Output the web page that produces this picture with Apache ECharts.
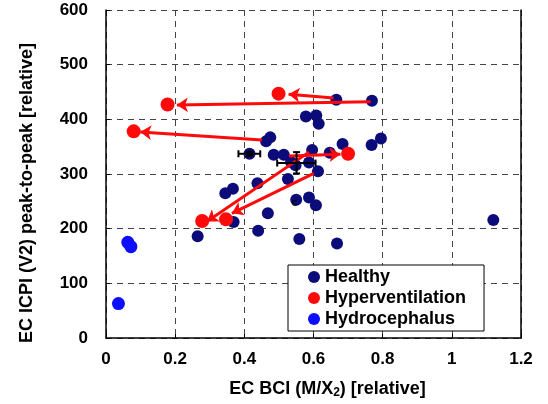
<!DOCTYPE html>
<html>
<head>
<meta charset="utf-8">
<script src="https://cdn.jsdelivr.net/npm/echarts@6/dist/echarts.min.js"></script>
<style>
    html, body { margin: 0; padding: 0; background: #fff; }
    #chart { width: 548px; height: 404px; }
</style>
</head>
<body>
<div id="chart"></div>
<script>
// values
const healthy = [
    [0.666, 436], [0.769, 434], [0.578, 405], [0.608, 407], [0.615, 392],
    [0.463, 360], [0.475, 367], [0.684, 355], [0.768, 353], [0.795, 365],
    [0.415, 337], [0.485, 335], [0.514, 335], [0.548, 316], [0.535, 322],
    [0.587, 321], [0.596, 344], [0.647, 339], [0.613, 305], [0.526, 291],
    [0.438, 283], [0.367, 273], [0.345, 265], [0.550, 253], [0.587, 257],
    [0.607, 243], [0.468, 228], [0.369, 212], [0.440, 196], [0.265, 186],
    [0.559, 181], [0.668, 173], [1.120, 216]
];
const hyperventilation = [
    [0.499, 447], [0.178, 427], [0.080, 378], [0.700, 337], [0.278, 214], [0.347, 217]
];
const hydrocephalus = [
    [0.063, 175], [0.072, 167], [0.036, 63]
];
// healthy -> hyperventilation shifts: [from, to]
const arrows = [
    [[0.658, 439], [0.528, 446]],
    [[0.765, 432], [0.205, 426]],
    [[0.451, 362], [0.099, 377]],
    [[0.529, 333], [0.678, 336]],
    [[0.587, 340], [0.292, 213]],
    [[0.601, 301], [0.364, 228]]
];
// mean markers: x, y, xLow, xHigh, yLow, yHigh
const errorBars = [
    [0.415, 337, 0.383, 0.446, 333, 341],
    [0.551, 320, 0.495, 0.606, 301, 340]
];
const notes = [[0.545, 247, 'c']];

const xName = 'EC BCI (M/X{sub|2}) [relative]';
const yName = 'EC ICPI (V2) peak-to-peak [relative]';

const font = 'Liberation Sans, Arial, sans-serif';
const navy = '#0b0b7a';
const red = '#ff0a0a';
const blue = '#0d0dff';

const chart = echarts.init(document.getElementById('chart'));

const renderErrorBar = (params, api) => {
    const c = api.coord([api.value(0), api.value(1)]);
    const xl = api.coord([api.value(2), api.value(1)]);
    const xh = api.coord([api.value(3), api.value(1)]);
    const yl = api.coord([api.value(0), api.value(4)]);
    const yh = api.coord([api.value(0), api.value(5)]);
    const cap = 3.5;
    const style = { stroke: '#000', lineWidth: 2 };
    const seg = (x1, y1, x2, y2) => ({ type: 'line', shape: { x1, y1, x2, y2 }, style });
    return {
        type: 'group',
        children: [
            seg(xl[0], c[1], xh[0], c[1]),
            seg(xl[0], c[1] - cap, xl[0], c[1] + cap),
            seg(xh[0], c[1] - cap, xh[0], c[1] + cap),
            seg(c[0], yl[1], c[0], yh[1]),
            seg(c[0] - cap, yl[1], c[0] + cap, yl[1]),
            seg(c[0] - cap, yh[1], c[0] + cap, yh[1])
        ]
    };
};

const option = {
    animation: false,
    textStyle: { fontFamily: font },
    grid: { left: 106, right: 27, top: 10, bottom: 66 },
    legend: {
        data: ['Healthy', 'Hyperventilation', 'Hydrocephalus'],
        orient: 'vertical',
        left: 288,
        top: 265,
        padding: [3, 18, 3, 20],
        itemGap: 3,
        itemWidth: 12,
        itemHeight: 12,
        icon: 'circle',
        borderColor: '#000',
        borderWidth: 1,
        backgroundColor: '#fff',
        textStyle: { fontSize: 18, fontWeight: 'bold', color: '#000', fontFamily: font }
    },
    xAxis: {
        type: 'value',
        min: 0,
        max: 1.2,
        interval: 0.2,
        name: xName,
        nameLocation: 'middle',
        nameGap: 41,
        nameTextStyle: {
            fontSize: 18, fontWeight: 'bold', color: '#000', padding: [0, 0, 0, 28],
            rich: { sub: { fontSize: 12, fontWeight: 'bold', verticalAlign: 'bottom', padding: [8, 0, 0, 0] } }
        },
        axisLine: { lineStyle: { color: '#000', width: 1.5 } },
        axisTick: { inside: true, length: 4, lineStyle: { color: '#000' } },
        axisLabel: { fontSize: 17, fontWeight: 'bold', color: '#000', margin: 13 },
        splitLine: { lineStyle: { color: '#444', type: [6, 5] } }
    },
    yAxis: [
        {
            type: 'value',
            min: 0,
            max: 600,
            interval: 100,
            name: yName,
            nameLocation: 'middle',
            nameGap: 70,
            nameTextStyle: { fontSize: 18, fontWeight: 'bold', color: '#000', padding: [0, 38, 0, 0] },
            axisLine: { show: true, lineStyle: { color: '#000', width: 1.5 } },
            axisTick: { show: true, inside: true, length: 4, lineStyle: { color: '#000' } },
            axisLabel: { fontSize: 17, fontWeight: 'bold', color: '#000', margin: 18 },
            splitLine: { lineStyle: { color: '#444', type: [6, 5] } }
        },
        {
            type: 'value',
            min: 0,
            max: 600,
            position: 'right',
            axisLine: { show: true, lineStyle: { color: '#000', width: 1.5 } },
            axisTick: { show: false },
            axisLabel: { show: false },
            splitLine: { show: false }
        }
    ],
    series: [
        {
            name: 'Healthy',
            type: 'scatter',
            data: healthy,
            symbolSize: 12,
            itemStyle: { color: navy, opacity: 1 },
            z: 2
        },
        {
            name: 'arrows',
            type: 'lines',
            coordinateSystem: 'cartesian2d',
            data: arrows.map(a => ({ coords: a })),
            symbol: ['none', 'arrow'],
            symbolSize: 11,
            lineStyle: { color: red, width: 3, opacity: 1, curveness: 0 },
            z: 3
        },
        {
            name: 'Hyperventilation',
            type: 'scatter',
            data: hyperventilation,
            symbolSize: 14,
            itemStyle: { color: red, opacity: 1 },
            z: 4
        },
        {
            name: 'Hydrocephalus',
            type: 'scatter',
            data: hydrocephalus,
            symbolSize: 13,
            itemStyle: { color: blue, opacity: 1 },
            z: 4
        },
        {
            name: 'means',
            type: 'custom',
            renderItem: renderErrorBar,
            data: errorBars,
            z: 5
        },
        {
            name: 'notes',
            type: 'scatter',
            data: notes,
            symbolSize: 0,
            label: {
                show: true,
                position: 'inside',
                formatter: p => p.value[2],
                fontSize: 11,
                fontWeight: 'bold',
                color: '#000'
            },
            z: 5
        }
    ]
};

chart.setOption(option);
</script>
</body>
</html>
